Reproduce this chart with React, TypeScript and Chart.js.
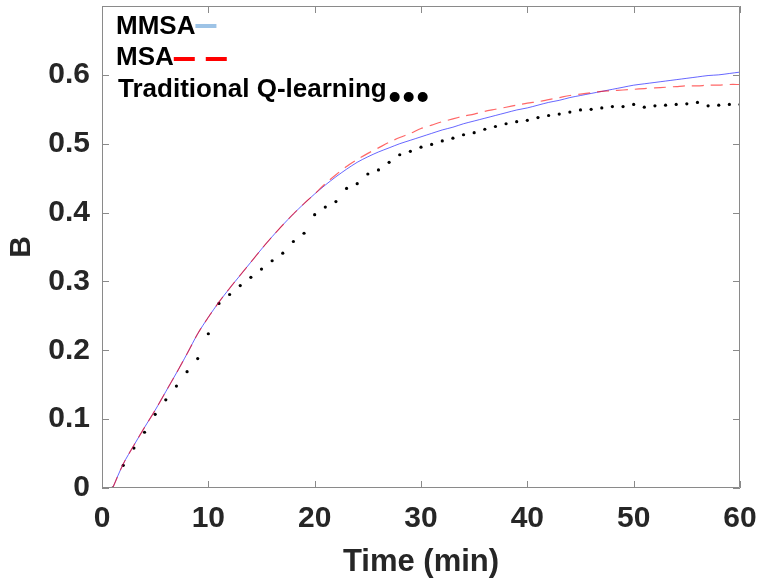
import React, { useEffect, useRef } from "react";
import { Chart, registerables } from "chart.js";

Chart.register(...registerables);

const times: number[] = [
  1, 2, 3, 4, 5, 6, 7, 8, 9, 10, 11, 12, 13, 14, 15, 16, 17, 18, 19, 20,
  21, 22, 23, 24, 25, 26, 27, 28, 29, 30, 31, 32, 33, 34, 35, 36, 37, 38, 39, 40,
  41, 42, 43, 44, 45, 46, 47, 48, 49, 50, 51, 52, 53, 54, 55, 56, 57, 58, 59, 60,
];

const mmsa: number[] = [
  0, 0.035, 0.062, 0.088, 0.113, 0.14, 0.167, 0.195, 0.224, 0.248,
  0.27, 0.29, 0.309, 0.328, 0.347, 0.365, 0.382, 0.398, 0.413, 0.427,
  0.44, 0.452, 0.463, 0.473, 0.481, 0.488, 0.494, 0.5, 0.505, 0.51,
  0.515, 0.52, 0.524, 0.529, 0.533, 0.537, 0.541, 0.545, 0.549, 0.552,
  0.556, 0.56, 0.563, 0.567, 0.57, 0.573, 0.576, 0.579, 0.582, 0.585,
  0.587, 0.589, 0.591, 0.593, 0.595, 0.597, 0.599, 0.6, 0.602, 0.604,
];

const msa: number[] = [
  0, 0.035, 0.062, 0.088, 0.113, 0.14, 0.167, 0.195, 0.224, 0.248,
  0.27, 0.29, 0.309, 0.328, 0.347, 0.365, 0.382, 0.398, 0.413, 0.427,
  0.442, 0.455, 0.467, 0.477, 0.486, 0.494, 0.502, 0.509, 0.515, 0.522,
  0.527, 0.532, 0.536, 0.54, 0.543, 0.547, 0.55, 0.553, 0.556, 0.559,
  0.561, 0.564, 0.567, 0.57, 0.572, 0.574, 0.576, 0.577, 0.578, 0.579,
  0.58, 0.581, 0.582, 0.583, 0.584, 0.584, 0.585, 0.585, 0.586, 0.586,
];

const qlearning: number[] = [
  0, 0.033, 0.058, 0.081, 0.107, 0.128, 0.148, 0.169, 0.188, 0.224,
  0.268, 0.281, 0.294, 0.306, 0.318, 0.33, 0.341, 0.358, 0.37, 0.397,
  0.408, 0.416, 0.435, 0.442, 0.456, 0.462, 0.473, 0.484, 0.489, 0.495,
  0.499, 0.504, 0.508, 0.513, 0.516, 0.521, 0.525, 0.529, 0.532, 0.534,
  0.538, 0.541, 0.543, 0.546, 0.549, 0.55, 0.552, 0.554, 0.554, 0.557,
  0.553, 0.555, 0.556, 0.557, 0.558, 0.56, 0.555, 0.556, 0.557, 0.557,
];

const seriesNames: string[] = ["MMSA", "MSA", "Traditional Q-learning"];
const xTickValues: number[] = [0, 10, 20, 30, 40, 50, 60];
const yTickValues: number[] = [0, 0.1, 0.2, 0.3, 0.4, 0.5, 0.6];

const FONT = "'Liberation Sans', Arial, Helvetica, sans-serif";

const boxPlugin = {
  id: "boxPlugin",
  afterDraw(chart: any) {
    const { ctx, chartArea } = chart;
    const { left, right, top, bottom } = chartArea;
    const xs = chart.scales.x;
    const ys = chart.scales.y;
    ctx.save();
    ctx.strokeStyle = "#8a8a8a";
    ctx.lineWidth = 1;
    ctx.beginPath();
    ctx.rect(left + 0.5, top + 0.5, right - left - 1, bottom - top - 1);
    ctx.stroke();
    const tl = 7;
    ctx.beginPath();
    xTickValues.forEach((v) => {
      const px = Math.round(xs.getPixelForValue(v)) + 0.5;
      ctx.moveTo(px, bottom);
      ctx.lineTo(px, bottom - tl);
      ctx.moveTo(px, top);
      ctx.lineTo(px, top + tl);
    });
    yTickValues.forEach((v) => {
      const py = Math.round(ys.getPixelForValue(v)) + 0.5;
      ctx.moveTo(left, py);
      ctx.lineTo(left + tl, py);
      ctx.moveTo(right, py);
      ctx.lineTo(right - tl, py);
    });
    ctx.stroke();

    // legend
    ctx.fillStyle = "#000000";
    ctx.font = `bold 26px ${FONT}`;
    ctx.textBaseline = "alphabetic";
    ctx.textAlign = "left";
    const x0 = 116;
    const rows = [34, 65, 97];
    seriesNames.forEach((name, i) => {
      ctx.fillText(name, i === 2 ? x0 + 2 : x0, rows[i]);
    });
    const w0 = ctx.measureText(seriesNames[0]).width;
    const w1 = ctx.measureText(seriesNames[1]).width;
    const w2 = ctx.measureText(seriesNames[2]).width;
    ctx.strokeStyle = "#9dc3e6";
    ctx.lineWidth = 4;
    ctx.beginPath();
    ctx.moveTo(x0 + w0, 26);
    ctx.lineTo(x0 + w0 + 21, 26);
    ctx.stroke();
    ctx.strokeStyle = "#ff0000";
    ctx.beginPath();
    ctx.moveTo(x0 + w1, 59);
    ctx.lineTo(x0 + w1 + 21, 59);
    ctx.moveTo(x0 + w1 + 32, 59);
    ctx.lineTo(x0 + w1 + 53, 59);
    ctx.stroke();
    ctx.fillStyle = "#000000";
    const dx = x0 + 2 + w2;
    [8, 22, 36].forEach((o) => {
      ctx.beginPath();
      ctx.arc(dx + o, 97, 5, 0, Math.PI * 2);
      ctx.fill();
    });
    ctx.restore();
  },
};

const zeroPad = (s: any) => {
  s.paddingTop = 0;
  s.paddingBottom = 0;
  s.paddingLeft = 0;
  s.paddingRight = 0;
};

export default function App() {
  const ref = useRef<HTMLCanvasElement | null>(null);
  useEffect(() => {
    if (!ref.current) return;
    const chart = new Chart(ref.current, {
      type: "line",
      data: {
        datasets: [
          {
            label: seriesNames[0],
            data: times.map((t, i) => ({ x: t, y: mmsa[i] })),
            borderColor: "rgba(0,0,255,0.6)",
            borderWidth: 1,
            pointRadius: 0,
            tension: 0.3,
            fill: false,
            order: 1,
          },
          {
            label: seriesNames[1],
            data: times.map((t, i) => ({ x: t, y: msa[i] })),
            borderColor: "rgba(255,0,0,0.6)",
            borderWidth: 1.2,
            borderDash: [12, 7],
            pointRadius: 0,
            tension: 0.3,
            fill: false,
            order: 0,
          },
          {
            label: seriesNames[2],
            data: times.map((t, i) => ({ x: t, y: qlearning[i] })),
            showLine: false,
            pointRadius: 1.6,
            pointBorderWidth: 0,
            pointBackgroundColor: "#000000",
            borderColor: "#000000",
            order: 2,
          },
        ],
      },
      options: {
        responsive: false,
        animation: false,
        layout: { padding: { top: 6, right: 18, left: 0, bottom: 0 } },
        plugins: {
          legend: { display: false },
          tooltip: { enabled: false },
        },
        scales: {
          x: {
            type: "linear",
            min: 0,
            max: 60,
            afterFit: (s: any) => {
              s.height = 93;
              zeroPad(s);
            },
            afterBuildTicks: (s: any) => {
              s.ticks = xTickValues.map((v) => ({ value: v }));
            },
            ticks: {
              font: { family: FONT, size: 30, weight: "bold" },
              color: "#262626",
              padding: 13,
              maxRotation: 0,
              autoSkip: false,
            },
            grid: { display: false, drawTicks: false },
            border: { display: false },
            title: {
              display: true,
              text: "Time (min)",
              color: "#262626",
              font: { family: FONT, size: 31, weight: "bold" },
              padding: { top: 5, bottom: 0 },
            },
          },
          y: {
            type: "linear",
            min: 0,
            max: 0.7,
            afterFit: (s: any) => {
              s.width = 102;
              zeroPad(s);
            },
            afterBuildTicks: (s: any) => {
              s.ticks = yTickValues.map((v) => ({ value: v }));
            },
            ticks: {
              font: { family: FONT, size: 30, weight: "bold" },
              color: "#262626",
              padding: 12,
              autoSkip: false,
              callback: (v: any) => String(Number(Number(v).toFixed(1))),
            },
            grid: { display: false, drawTicks: false },
            border: { display: false },
            title: {
              display: true,
              text: "B",
              color: "#262626",
              font: { family: FONT, size: 30, weight: "bold" },
              padding: { top: 4, bottom: 0 },
            },
          },
        },
      },
      plugins: [boxPlugin],
    });
    return () => chart.destroy();
  }, []);
  return (
    <div style={{ position: "absolute", left: 0, top: 0, width: 758, height: 581, background: "#ffffff" }}>
      <canvas ref={ref} width={758} height={581} style={{ display: "block" }} />
    </div>
  );
}
